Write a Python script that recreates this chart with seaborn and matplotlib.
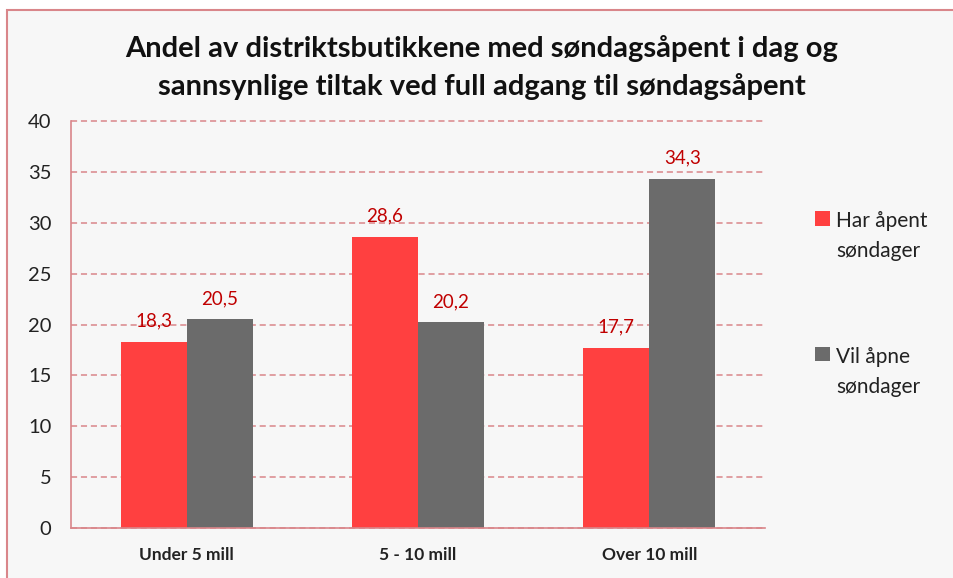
import matplotlib
matplotlib.use("Agg")
import matplotlib.pyplot as plt
import seaborn as sns
import pandas as pd
from matplotlib.patches import Rectangle

categories = ["Under 5 mill", "5 - 10 mill", "Over 10 mill"]
series_names = ["Har åpent\nsøndager", "Vil åpne\nsøndager"]
har_apent = [18.3, 28.6, 17.7]
vil_apne = [20.5, 20.2, 34.3]
yticks = [0, 5, 10, 15, 20, 25, 30, 35, 40]
title = "Andel av distriktsbutikkene med søndagsåpent i dag og\nsannsynlige tiltak ved full adgang til søndagsåpent"

df = pd.DataFrame({
    "cat": categories * 2,
    "series": [series_names[0]] * 3 + [series_names[1]] * 3,
    "value": har_apent + vil_apne,
})

sns.set_theme(style="white")
plt.rcParams["font.family"] = ["Lato", "DejaVu Sans"]

bg = "#f7f7f7"
fig = plt.figure(figsize=(9.54, 5.78), dpi=100, facecolor="white")
fig.patches.append(Rectangle((7/954, -0.5), 2.0, 1 - 10/578 + 0.5,
                             transform=fig.transFigure, facecolor=bg,
                             edgecolor="#d9868a", linewidth=1.5, zorder=-10))

ax = fig.add_axes([71/954, 1-528/578, (765-71)/954, (528-121)/578])
ax.set_facecolor(bg)

palette = {series_names[0]: "#ff4040", series_names[1]: "#6b6b6b"}
sns.barplot(data=df, x="cat", y="value", hue="series", order=categories,
            hue_order=series_names, palette=palette, width=0.57, ax=ax,
            saturation=1, edgecolor="none", linewidth=0)

for cont in ax.containers:
    labels = [f"{b.get_height():.1f}".replace(".", ",") for b in cont]
    ax.bar_label(cont, labels=labels, padding=9, color="#c00000", fontsize=13.5)

ax.set_ylim(0, 40)
ax.set_yticks(yticks)
ax.set_yticklabels([str(t) for t in yticks], fontsize=14.5, color="#222222")
ax.set_xlim(-0.5, 2.5)
ax.set_xlabel("")
ax.set_ylabel("")
ax.tick_params(axis="x", labelsize=12.5, length=0, pad=14)
for lbl in ax.get_xticklabels():
    lbl.set_fontweight("bold")
    lbl.set_color("#222222")
ax.tick_params(axis="y", length=0, pad=14)

ax.set_axisbelow(True)
ax.yaxis.grid(True, color="#d9868a", linestyle=(0, (4, 2.5)), linewidth=1.1)
for gl in ax.yaxis.get_gridlines():
    gl.set_clip_on(False)
for side in ["top", "right"]:
    ax.spines[side].set_visible(False)
for side in ["left", "bottom"]:
    ax.spines[side].set_color("#d9868a")
    ax.spines[side].set_linewidth(1.2)

leg = ax.legend(loc="upper left", bbox_to_anchor=(1.045, 0.825), frameon=False,
                fontsize=15, labelspacing=4.1, handlelength=0.7,
                handleheight=0.7, handletextpad=0.3)
for t in leg.get_texts():
    t.set_color("#222222")
    t.set_linespacing(1.65)
try:
    for col in leg._legend_handle_box.get_children():
        for hp in col.get_children():
            hp.align = "top"
except Exception:
    pass

fig.suptitle(title, fontsize=21, fontweight="bold", y=0.94, x=0.505,
             linespacing=1.5, color="#111111")

fig.savefig("out.png", dpi=100, facecolor="white")
